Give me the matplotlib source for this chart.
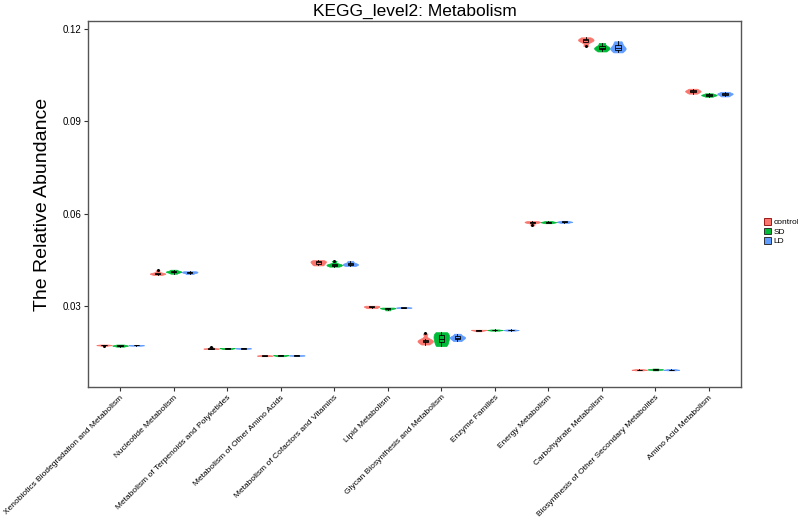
import numpy as np
import matplotlib
matplotlib.use("Agg")
import matplotlib.pyplot as plt
from matplotlib.patches import Patch

plt.rcParams["font.family"] = ["Liberation Sans", "DejaVu Sans"]

# Categories (x axis order)
categories = [
    "Xenobiotics Biodegradation and Metabolism",
    "Nucleotide Metabolism",
    "Metabolism of Terpenoids and Polyketides",
    "Metabolism of Other Amino Acids",
    "Metabolism of Cofactors and Vitamins",
    "Lipid Metabolism",
    "Glycan Biosynthesis and Metabolism",
    "Enzyme Families",
    "Energy Metabolism",
    "Carbohydrate Metabolism",
    "Biosynthesis of Other Secondary Metabolites",
    "Amino Acid Metabolism",
]

groups = ["control", "SD", "LD"]
colors = ["#F8766D", "#00BA38", "#619CFF"]

# Relative abundance per sample
control = [
    [0.0170, 0.0172, 0.0173, 0.0173, 0.0174, 0.0175],
    [0.0401, 0.0404, 0.0405, 0.0406, 0.0408, 0.0416],
    [0.0160, 0.0161, 0.0162, 0.0162, 0.0163, 0.0166],
    [0.0137, 0.0138, 0.0139, 0.0139, 0.0140, 0.0141],
    [0.0432, 0.0436, 0.0440, 0.0443, 0.0446, 0.0449],
    [0.0293, 0.0295, 0.0297, 0.0298, 0.0300, 0.0301],
    [0.0175, 0.0182, 0.0186, 0.0188, 0.0192, 0.0211],
    [0.0218, 0.0220, 0.0221, 0.0222, 0.0223, 0.0223],
    [0.0562, 0.0570, 0.0572, 0.0573, 0.0574, 0.0576],
    [0.1145, 0.1158, 0.1162, 0.1165, 0.1168, 0.1173],
    [0.0091, 0.0092, 0.0093, 0.0093, 0.0094, 0.0095],
    [0.0990, 0.0994, 0.0997, 0.0999, 0.1002, 0.1006],
]
sd = [
    [0.0168, 0.0170, 0.0171, 0.0172, 0.0173, 0.0175],
    [0.0405, 0.0409, 0.0411, 0.0412, 0.0414, 0.0418],
    [0.0160, 0.0161, 0.0162, 0.0163, 0.0163, 0.0164],
    [0.0137, 0.0138, 0.0139, 0.0140, 0.0140, 0.0141],
    [0.0428, 0.0431, 0.0433, 0.0435, 0.0437, 0.0447],
    [0.0286, 0.0290, 0.0292, 0.0293, 0.0294, 0.0295],
    [0.0170, 0.0180, 0.0190, 0.0198, 0.0207, 0.0215],
    [0.0220, 0.0221, 0.0222, 0.0222, 0.0223, 0.0224],
    [0.0569, 0.0571, 0.0572, 0.0573, 0.0574, 0.0576],
    [0.1127, 0.1133, 0.1137, 0.1140, 0.1145, 0.1155],
    [0.0091, 0.0093, 0.0094, 0.0094, 0.0095, 0.0097],
    [0.0980, 0.0983, 0.0985, 0.0986, 0.0988, 0.0991],
]
ld = [
    [0.0171, 0.0172, 0.0172, 0.0173, 0.0173, 0.0174],
    [0.0404, 0.0407, 0.0409, 0.0410, 0.0412, 0.0413],
    [0.0161, 0.0162, 0.0162, 0.0163, 0.0163, 0.0164],
    [0.0138, 0.0139, 0.0139, 0.0140, 0.0140, 0.0141],
    [0.0430, 0.0433, 0.0435, 0.0437, 0.0440, 0.0446],
    [0.0293, 0.0294, 0.0295, 0.0295, 0.0296, 0.0297],
    [0.0186, 0.0192, 0.0196, 0.0199, 0.0202, 0.0210],
    [0.0220, 0.0221, 0.0222, 0.0222, 0.0223, 0.0224],
    [0.0570, 0.0572, 0.0573, 0.0574, 0.0575, 0.0577],
    [0.1124, 0.1132, 0.1137, 0.1141, 0.1150, 0.1160],
    [0.0091, 0.0092, 0.0093, 0.0093, 0.0094, 0.0095],
    [0.0981, 0.0985, 0.0988, 0.0990, 0.0992, 0.0996],
]
yticks = [0.03, 0.06, 0.09, 0.12]

fig = plt.figure(figsize=(7.98, 5.21), dpi=100)
ax = fig.add_axes([0.1103, 0.2572, 0.8183, 0.7025])

x = np.arange(1, len(categories) + 1)
offsets = [-0.3, 0.0, 0.3]

for data, col, off in zip([control, sd, ld], colors, offsets):
    pos = x + off
    vp = ax.violinplot(data, positions=pos, widths=0.29, showextrema=False,
                       bw_method=0.5)
    for body in vp["bodies"]:
        body.set_facecolor(col)
        body.set_edgecolor(col)
        body.set_alpha(1)
        body.set_linewidth(0.5)
    ax.boxplot(data, positions=pos, widths=0.1, patch_artist=True,
               manage_ticks=False,
               boxprops=dict(facecolor=col, edgecolor="black", linewidth=0.6),
               medianprops=dict(color="black", linewidth=0.6),
               whiskerprops=dict(color="black", linewidth=0.6),
               capprops=dict(linewidth=0),
               flierprops=dict(marker="o", markersize=1.2, markerfacecolor="black",
                               markeredgecolor="black"))

ax.set_xlim(0.4, len(categories) + 0.6)
ax.set_ylim(0.0037, 0.1226)
ax.set_xticks(x)
ax.set_xticklabels(categories, rotation=45, ha="right", rotation_mode="anchor",
                   fontsize=6.05)
ax.set_yticks(yticks)
ax.set_yticklabels([f"{v:.2f}" for v in yticks], fontsize=7)
ax.tick_params(direction="out", length=3, width=0.8, color="#333333", pad=2)

for s in ax.spines.values():
    s.set_color("#555555")
    s.set_linewidth(1)

ax.set_ylabel("The Relative Abundance", fontsize=14, labelpad=8)
ax.set_title("KEGG_level2: Metabolism", fontsize=12.5, pad=4)

handles = [Patch(facecolor=c, edgecolor="#8B0000" if i == 0 else "#1a1a1a",
                 linewidth=0.6, label=g) for i, (g, c) in enumerate(zip(groups, colors))]
fig.legend(handles=handles, loc="center left", bbox_to_anchor=(0.953, 0.555),
           frameon=False, fontsize=6, handlelength=0.85, handleheight=0.85,
           handletextpad=0.3, labelspacing=0.15, borderaxespad=0)

fig.savefig("out.png", dpi=100)
